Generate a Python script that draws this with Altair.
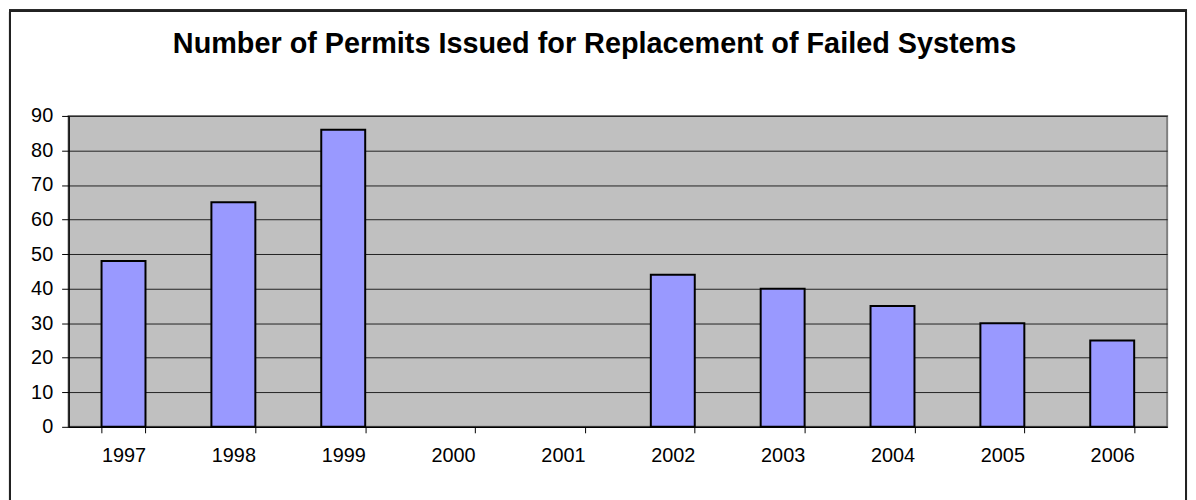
import altair as alt
import pandas as pd

years = ["1997", "1998", "1999", "2000", "2001", "2002", "2003", "2004", "2005", "2006"]
permits = [48, 65, 86, 0, 0, 44, 40, 35, 30, 25]
y_ticks = [0, 10, 20, 30, 40, 50, 60, 70, 80, 90]
title_text = "Number of Permits Issued for Replacement of Failed Systems"

df = pd.DataFrame({"year": years, "permits": permits})

FONT = "Liberation Sans"
W, H = 1106, 313

bars = alt.Chart(df).transform_filter(
    alt.datum.permits > 0
).mark_bar(
    color="#9999FF", stroke="black", strokeWidth=2
).encode(
    x=alt.X(
        "year:N",
        sort=years,
        scale=alt.Scale(domain=years, paddingInner=0.6, paddingOuter=0.3),
        axis=alt.Axis(
            title=None, labelAngle=0, labelFont=FONT, labelFontSize=20,
            labelColor="black", tickColor="black", tickSize=6, tickBand="extent",
            domainColor="black", domainWidth=1.5, labelPadding=13, grid=False,
        ),
    ),
    y=alt.Y(
        "permits:Q",
        scale=alt.Scale(domain=[0, 90], nice=False),
        axis=alt.Axis(
            title=None, values=y_ticks, labelFont=FONT, labelFontSize=20,
            labelColor="black", tickColor="black", tickSize=7,
            domainColor="black", domainWidth=1.5, labelPadding=9,
            grid=True, gridColor="#222222", gridWidth=1,
        ),
    ),
)

border = alt.Chart(df).mark_rect(
    fill=None, stroke="#222222", strokeWidth=2
).encode(
    x=alt.value(-59), x2=alt.value(1125), y=alt.value(-106), y2=alt.value(460)
)

title = alt.Chart(pd.DataFrame({"t": [title_text]})).mark_text(
    font=FONT, fontSize=29, fontWeight="bold", color="black",
    align="center", baseline="alphabetic",
).encode(
    text="t:N", x=alt.value(529.5), y=alt.value(-63)
)

chart = alt.layer(border, bars, title).properties(
    width=W,
    height=H,
    padding={"left": 61, "top": 107, "right": 21, "bottom": 72},
    autosize=alt.AutoSizeParams(type="none"),
    background="white",
).configure_view(
    fill="#C0C0C0", stroke="#808080", strokeWidth=2
)

chart.save("out.html", embed_options={"renderer": "svg", "actions": False})
